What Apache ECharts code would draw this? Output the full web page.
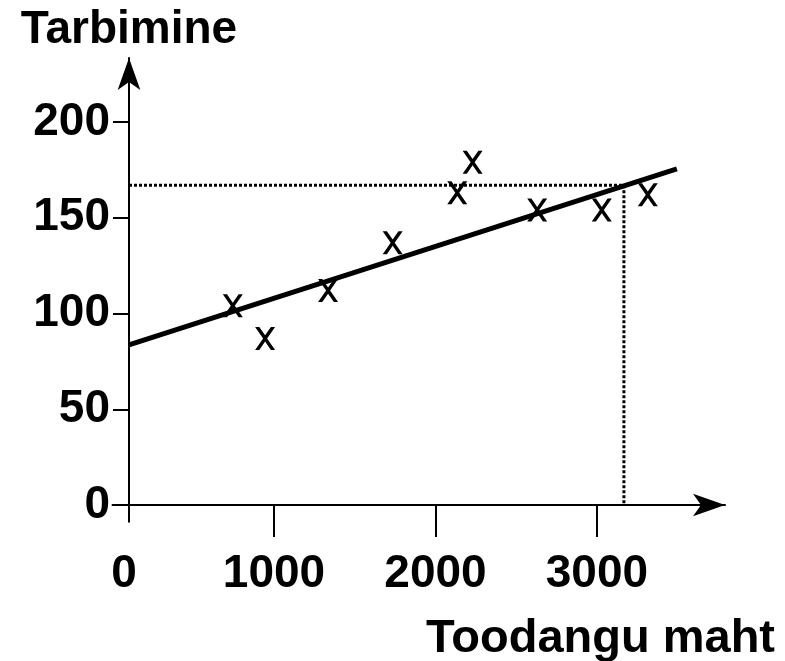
<!DOCTYPE html>
<html>
<head>
<meta charset="utf-8">
<script src="https://cdn.jsdelivr.net/npm/echarts@6/dist/echarts.min.js"></script>
<style>
  html, body { margin: 0; padding: 0; background: #fff; }
  #chart { width: 785px; height: 661px; }
</style>
</head>
<body>
<div id="chart"></div>
<script>
// observations (x = output, y = consumption)
const pointsX = [745, 945, 1335, 1735, 2135, 2230, 2630, 3030, 3315]
const pointsY = [104, 87, 112, 137, 163, 179, 154, 154, 162]

// fitted line, from the y axis to its right end
const fitX = [102, 3495]
const fitY = [83.6, 175.5]

// dotted reading guide: across to the line, then down to the x axis
const guideX = [102, 3167, 3167]
const guideY = [167, 167, 0]

const xTicks = [1000, 2000, 3000]
const xLabels = [0, 1000, 2000, 3000]
const yTicks = [0, 50, 100, 150, 200]

const font = "'Liberation Sans', Arial, sans-serif"
// X glyph used as the point marker
const crossPath = 'path://M0,0L21,0L50,40L79,0L100,0L60,55L100,110L79,110L50,70L21,110L0,110L40,55Z'

const zip = (xs, ys) => xs.map((x, i) => [x, ys[i]])

const chart = echarts.init(document.getElementById('chart'))
chart.setOption({
  animation: false,
  backgroundColor: '#fff',
  grid: {
    left: 112.5,
    right: 60,
    top: 58,
    bottom: 139.3,
    containLabel: false,
    outerBoundsMode: 'none',
  },
  xAxis: {
    type: 'value',
    min: 0,
    max: 3793,
    offset: -16.7,
    splitLine: { show: false },
    name: 'Toodangu maht',
    nameLocation: 'end',
    nameGap: 50,
    nameTextStyle: {
      fontFamily: font,
      fontWeight: 'bold',
      fontSize: 47,
      color: '#000',
      align: 'right',
      verticalAlign: 'top',
      padding: [111, 0, 0, 0],
    },
    axisLine: {
      onZero: false,
      symbol: ['none', 'arrow'],
      symbolSize: [17, 32],
      lineStyle: { color: '#000', width: 2 },
    },
    axisTick: {
      customValues: xTicks,
      length: 32,
      lineStyle: { color: '#000', width: 2 },
    },
    axisLabel: {
      customValues: xLabels,
      margin: 46,
      fontFamily: font,
      fontWeight: 'bold',
      fontSize: 46,
      color: '#000',
      formatter: (v) => (v === 0 ? '{z|0}' : String(v)),
      rich: {
        z: {
          fontFamily: font,
          fontWeight: 'bold',
          fontSize: 46,
          color: '#000',
          padding: [0, 0, 0, 23],
        },
      },
    },
  },
  yAxis: {
    type: 'value',
    min: -8.7,
    max: 233.4,
    offset: -16.5,
    splitLine: { show: false },
    name: 'Tarbimine',
    nameLocation: 'end',
    nameGap: 5,
    nameTextStyle: {
      fontFamily: font,
      fontWeight: 'bold',
      fontSize: 46,
      color: '#000',
    },
    axisLine: {
      onZero: false,
      symbol: ['none', 'arrow'],
      symbolSize: [17, 32],
      lineStyle: { color: '#000', width: 2 },
    },
    axisTick: {
      customValues: yTicks,
      length: 16,
      lineStyle: { color: '#000', width: 2 },
    },
    axisLabel: {
      customValues: yTicks,
      margin: 19,
      fontFamily: font,
      fontWeight: 'bold',
      fontSize: 46,
      color: '#000',
    },
  },
  series: [
    {
      type: 'line',
      data: zip(guideX, guideY),
      symbol: 'none',
      lineStyle: { color: '#000', width: 3, type: [3, 2] },
      z: 1,
    },
    {
      type: 'scatter',
      data: zip(pointsX, pointsY),
      symbol: crossPath,
      symbolSize: [20, 23],
      itemStyle: { color: '#000', opacity: 1 },
      z: 2,
    },
    {
      type: 'line',
      data: zip(fitX, fitY),
      symbol: 'none',
      lineStyle: { color: '#000', width: 5, cap: 'butt' },
      z: 3,
    },
  ],
})
</script>
</body>
</html>
